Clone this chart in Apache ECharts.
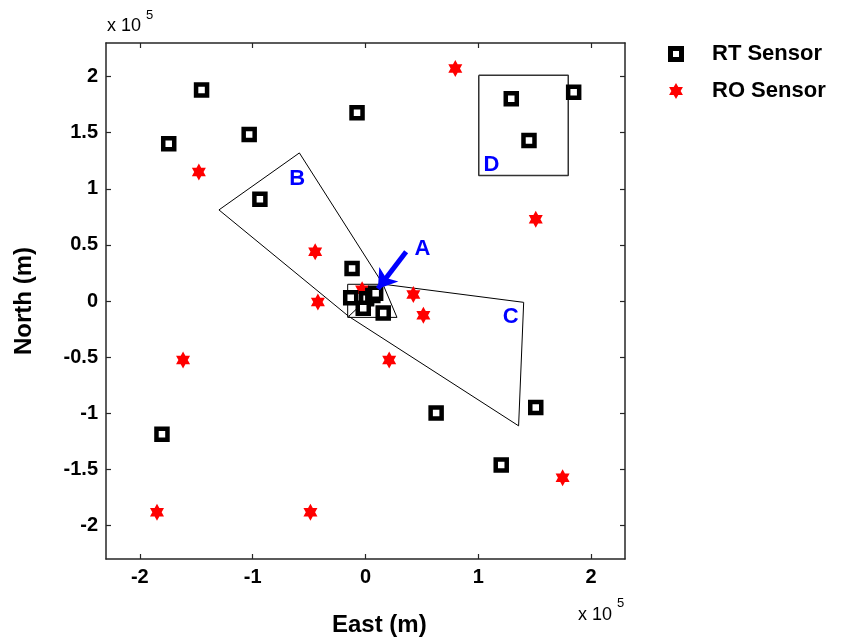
<!DOCTYPE html>
<html>
<head>
<meta charset="utf-8">
<script src="https://cdn.jsdelivr.net/npm/echarts@6/dist/echarts.min.js"></script>
<style>
  html, body { margin: 0; padding: 0; background: #fff; }
  #container { width: 843px; height: 640px; }
</style>
</head>
<body>
<div id="container"></div>
<script>
// positions in metres (axes show x 10^5)
var rtSensors = [
  [-145300, 188000], [-174400, 140100], [-103100, 148400], [-93600, 90800],
  [-7500, 167800], [129200, 180300], [144900, 143000], [184500, 186200],
  [-11900, 29000], [-13100, 3000], [1000, 2000], [6500, 5000], [9000, 7000],
  [-2000, -6500], [15700, -10700],
  [62600, -99900], [150900, -94900], [120300, -146200], [-180400, -118700]
];
var roSensors = [
  [-147700, 114900], [79600, 207200], [150900, 72900], [-44600, 43900],
  [-42200, -900], [42400, 5700], [51300, -12800], [21000, -52500],
  [-161700, -52500], [-184800, -188300], [-48800, -188300], [174700, -157600],
  [-3000, 10000], [-1000, -4000]
];
var regionA = [[-15800, 14900], [15500, 14900], [27900, -14600], [-15800, -14600], [-15800, 14900]];
var regionB = [[-129900, 81200], [-58600, 132000], [15500, 15000], [-14900, -13700], [-129900, 81200]];
var regionC = [[15500, 15000], [140200, -1200], [135700, -111300], [-14900, -13700]];
var regionD = [[100400, 201200], [179700, 201200], [179700, 111900], [100400, 111900], [100400, 201200]];
var regionLabels = [[50500, 46000, 'A'], [-60600, 108700, 'B'], [128600, -14300, 'C'], [111700, 121500, 'D']];
var arrowA = [[36000, 44000], [11000, 11000]];
var xTicks = [-200000, -100000, 0, 100000, 200000];
var yTicks = [-200000, -150000, -100000, -50000, 0, 50000, 100000, 150000, 200000];

var FONT = 'Liberation Sans';
var hexagram = 'path://M0,-10L2.887,-5L8.66,-5L5.774,0L8.66,5L2.887,5L0,10L-2.887,5L-8.66,5L-5.774,0L-8.66,-5L-2.887,-5Z';
var hollowSquare = 'path://M0,0H16V16H0ZM5,5V11H11V5Z';

var chart = echarts.init(document.getElementById('container'));

function axisBase(pos, ticks, labels) {
  return {
    type: 'value',
    position: pos,
    min: -230000,
    max: 230000,
    splitLine: { show: false },
    axisLine: { show: true, onZero: false, lineStyle: { color: '#262626', width: 1.5 } },
    axisTick: { show: true, inside: true, length: 5, customValues: ticks, lineStyle: { color: '#262626', width: 1.2 } },
    axisLabel: {
      show: labels, customValues: ticks, margin: 8,
      fontFamily: FONT, fontSize: 20, fontWeight: 'bold', color: '#000',
      formatter: function (v) { return String(Math.round(v / 1e5 * 10) / 10); }
    }
  };
}

var yLeft = axisBase('left', yTicks, true);
yLeft.name = 'North (m)';
yLeft.nameLocation = 'middle';
yLeft.nameGap = 70;
yLeft.nameTextStyle = { fontFamily: FONT, fontSize: 24, fontWeight: 'bold', color: '#000' };

var outline = function (name, pts, w, c) {
  return {
    name: name, type: 'line', data: pts, symbol: 'none', silent: true,
    lineStyle: { color: c, width: w }, z: 1, animation: false
  };
};

chart.setOption({
  animation: false,
  grid: { left: 106, top: 43, right: 218, bottom: 81 },
  xAxis: [axisBase('bottom', xTicks, true), axisBase('top', xTicks, false)],
  yAxis: [yLeft, axisBase('right', yTicks, false)],
  legend: {
    orient: 'vertical', left: 663, top: 38, itemGap: 15,
    itemWidth: 16, itemHeight: 16,
    textStyle: { fontFamily: FONT, fontSize: 22, fontWeight: 'bold', color: '#000', padding: [0, 0, 0, 23] },
    data: [
      { name: 'RT Sensor', icon: hollowSquare, itemStyle: { color: '#000', borderWidth: 0, opacity: 1 } },
      { name: 'RO Sensor', icon: hexagram, itemStyle: { color: '#ff0000', borderWidth: 0, opacity: 1 } }
    ]
  },
  graphic: [
    { type: 'text', left: 332, top: 613, style: { text: 'East (m)', font: 'bold 24px ' + FONT, fill: '#000' } },
    { type: 'text', left: 107, top: 17, style: { text: 'x 10', font: '18px ' + FONT, fill: '#000' } },
    { type: 'text', left: 146, top: 9, style: { text: '5', font: '13px ' + FONT, fill: '#000' } },
    { type: 'text', left: 578, top: 606, style: { text: 'x 10', font: '18px ' + FONT, fill: '#000' } },
    { type: 'text', left: 617, top: 597, style: { text: '5', font: '13px ' + FONT, fill: '#000' } }
  ],
  series: [
    outline('A', regionA, 1, '#000'),
    outline('B', regionB, 1, '#000'),
    outline('C', regionC, 1, '#000'),
    outline('D', regionD, 1.5, '#333'),
    {
      name: 'RO Sensor', type: 'scatter', data: roSensors, symbol: hexagram, symbolSize: [14, 17],
      itemStyle: { color: '#ff0000', opacity: 1 }, z: 3
    },
    {
      name: 'RT Sensor', type: 'scatter', data: rtSensors, symbol: 'rect', symbolSize: 11,
      itemStyle: { color: '#fff', borderColor: '#000', borderWidth: 4.5, opacity: 1 }, z: 4
    },
    {
      name: 'labels', type: 'scatter', data: regionLabels, symbolSize: 0, silent: true, z: 5,
      itemStyle: { opacity: 1 },
      label: {
        show: true, position: 'inside', formatter: function (p) { return p.value[2]; },
        fontFamily: FONT, fontSize: 22, fontWeight: 'bold', color: '#0000ff'
      }
    },
    {
      name: 'arrow', type: 'lines', coordinateSystem: 'cartesian2d', silent: true, z: 6,
      symbol: ['none', 'arrow'], symbolSize: 18,
      lineStyle: { color: '#0000ff', width: 5, opacity: 1 },
      data: [{ coords: arrowA }]
    }
  ]
});
</script>
</body>
</html>
